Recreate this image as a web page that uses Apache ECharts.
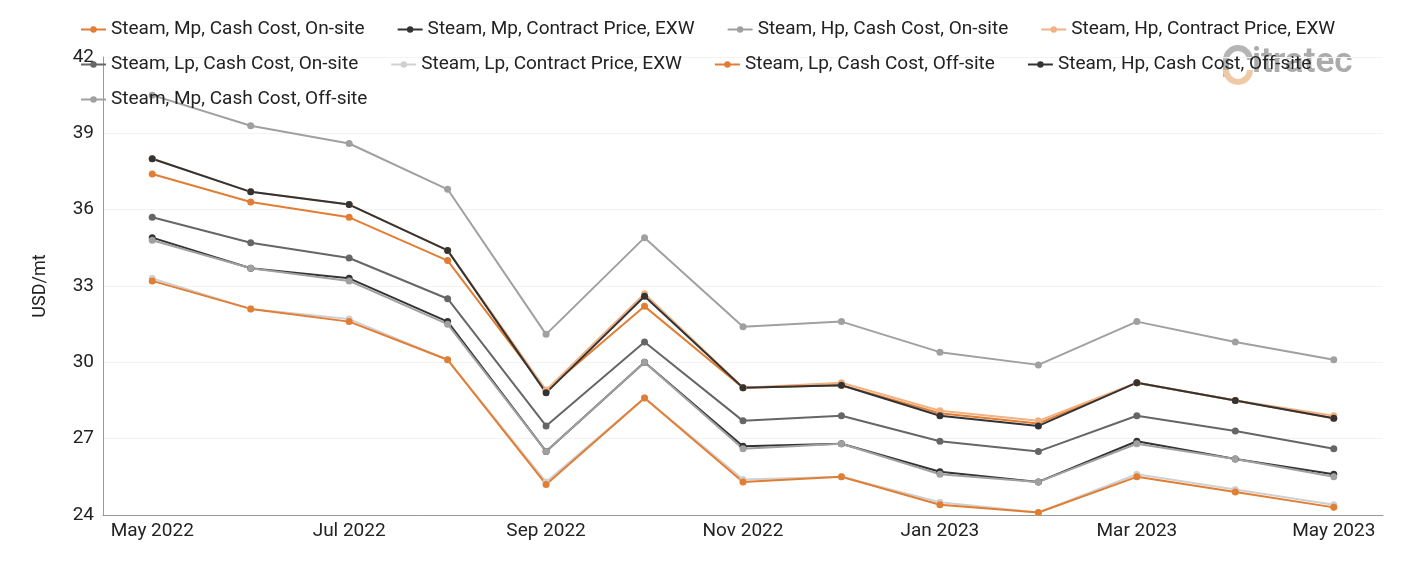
<!DOCTYPE html>
<html>
<head>
<meta charset="utf-8">
<script src="https://cdn.jsdelivr.net/npm/echarts@6/dist/echarts.min.js"></script>
<style>
  html, body {margin: 0; padding: 0; background: #fff;}
  #chart {width: 1401px; height: 561px;}
</style>
</head>
<body>
<div id="chart"></div>
<script>
const months = ['May 2022', 'Jun 2022', 'Jul 2022', 'Aug 2022', 'Sep 2022', 'Oct 2022', 'Nov 2022',
  'Dec 2022', 'Jan 2023', 'Feb 2023', 'Mar 2023', 'Apr 2023', 'May 2023'];

const mpCashOnsite = [37.4, 36.3, 35.7, 34.0, 28.9, 32.2, 29.0, 29.1, 28.0, 27.6, 29.2, 28.5, 27.8];
const mpContractExw = [34.9, 33.7, 33.3, 31.6, 26.5, 30.0, 26.7, 26.8, 25.7, 25.3, 26.9, 26.2, 25.6];
const hpCashOnsite = [40.5, 39.3, 38.6, 36.8, 31.1, 34.9, 31.4, 31.6, 30.4, 29.9, 31.6, 30.8, 30.1];
const hpContractExw = [38.0, 36.7, 36.2, 34.4, 28.9, 32.7, 29.0, 29.2, 28.1, 27.7, 29.2, 28.5, 27.9];
const lpCashOnsite = [35.7, 34.7, 34.1, 32.5, 27.5, 30.8, 27.7, 27.9, 26.9, 26.5, 27.9, 27.3, 26.6];
const lpContractExw = [33.3, 32.1, 31.7, 30.1, 25.3, 28.6, 25.4, 25.5, 24.5, 24.1, 25.6, 25.0, 24.4];
const lpCashOffsite = [33.2, 32.1, 31.6, 30.1, 25.2, 28.6, 25.3, 25.5, 24.4, 24.1, 25.5, 24.9, 24.3];
const hpCashOffsite = [38.0, 36.7, 36.2, 34.4, 28.8, 32.6, 29.0, 29.1, 27.9, 27.5, 29.2, 28.5, 27.8];
const mpCashOffsite = [34.8, 33.7, 33.2, 31.5, 26.5, 30.0, 26.6, 26.8, 25.6, 25.3, 26.8, 26.2, 25.5];

const seriesList = [
  {name: 'Steam, Mp, Cash Cost, On-site', data: mpCashOnsite, color: '#e27d34'},
  {name: 'Steam, Mp, Contract Price, EXW', data: mpContractExw, color: '#333333'},
  {name: 'Steam, Hp, Cash Cost, On-site', data: hpCashOnsite, color: '#a0a0a0'},
  {name: 'Steam, Hp, Contract Price, EXW', data: hpContractExw, color: '#f2b183'},
  {name: 'Steam, Lp, Cash Cost, On-site', data: lpCashOnsite, color: '#666666'},
  {name: 'Steam, Lp, Contract Price, EXW', data: lpContractExw, color: '#d0d0d0'},
  {name: 'Steam, Lp, Cash Cost, Off-site', data: lpCashOffsite, color: '#e27d34'},
  {name: 'Steam, Hp, Cash Cost, Off-site', data: hpCashOffsite, color: '#333333'},
  {name: 'Steam, Mp, Cash Cost, Off-site', data: mpCashOffsite, color: '#a0a0a0'},
];

const chart = echarts.init(document.getElementById('chart'));
chart.setOption({
  animation: false,
  textStyle: {fontFamily: 'Roboto'},
  color: seriesList.map(s => s.color),
  // watermark logo, roughly
  graphic: [
    {
      type: 'arc', z: 0, left: 1223, top: 45,
      shape: {cx: 14, cy: 14, r: 12, startAngle: Math.PI, endAngle: 2 * Math.PI},
      style: {stroke: '#b5b5b5', lineWidth: 6, fill: null},
    },
    {
      type: 'line', z: 0,
      shape: {x1: 1226, y1: 58, x2: 1226, y2: 77},
      style: {stroke: '#b5b5b5', lineWidth: 6},
    },
    {
      type: 'arc', z: 0, left: 1223, top: 67,
      shape: {cx: 14, cy: 12, r: 12, startAngle: 0, endAngle: Math.PI},
      style: {stroke: '#f0c9a6', lineWidth: 6, fill: null},
    },
    {
      type: 'text', z: 0, left: 1252, top: 46,
      style: {text: 'itratec', fill: '#ababab', font: '600 35px Roboto'},
    },
  ],
  legend: {
    left: 80,
    right: 40,
    top: 19,
    padding: 0,
    itemGap: 14,
    itemWidth: 25,
    itemHeight: 8,
    textStyle: {fontSize: 19, color: '#222', lineHeight: 21, padding: [0, 18, 0, 0]},
  },
  grid: {left: 103, right: 18, top: 57, bottom: 46},
  xAxis: {
    type: 'category',
    data: months,
    boundaryGap: true,
    axisLine: {lineStyle: {color: '#999'}},
    axisTick: {show: false},
    axisLabel: {interval: 1, fontSize: 19, color: '#222', margin: 7},
  },
  yAxis: {
    type: 'value',
    min: 24,
    max: 42,
    interval: 3,
    name: 'USD/mt',
    nameLocation: 'middle',
    nameGap: 54,
    nameTextStyle: {fontSize: 18, color: '#222'},
    axisLine: {show: true, lineStyle: {color: '#999'}},
    axisTick: {show: false},
    axisLabel: {fontSize: 19, color: '#222', margin: 9},
    splitLine: {lineStyle: {color: '#f3f3f3'}},
  },
  series: seriesList.map(s => ({
    name: s.name,
    type: 'line',
    data: s.data,
    symbol: 'circle',
    symbolSize: 7,
    lineStyle: {width: 2, color: s.color},
    itemStyle: {color: s.color},
  })),
});
</script>
</body>
</html>
